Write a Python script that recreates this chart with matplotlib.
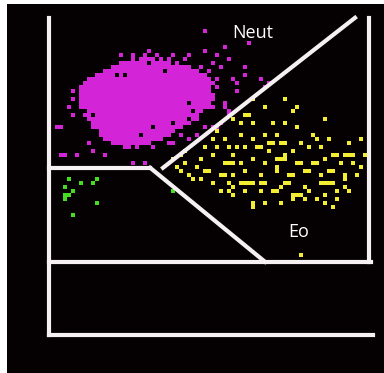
import numpy as np
import matplotlib
matplotlib.use("Agg")
import matplotlib.pyplot as plt

# channel units (one channel = one pixel cell of the scattergram)
# dense neutrophil core: row -> (first channel, last channel)
neut_core_rows = [69, 68, 67, 66, 65, 64, 63, 62, 61, 60, 59, 58, 57, 56, 55, 54, 53, 52, 51, 50, 49, 48, 47]
neut_core_x0 = [20, 17, 15, 13, 11, 10, 9, 8, 8, 7, 7, 8, 8, 9, 9, 10, 10, 11, 12, 12, 13, 15, 18]
neut_core_x1 = [30, 33, 36, 38, 39, 40, 41, 41, 41, 41, 41, 40, 40, 39, 38, 37, 36, 34, 33, 31, 29, 26, 23]
neut_holes = [(11, 55), (23, 50), (26, 52), (35, 58), (17, 65), (19, 65), (31, 53), (36, 56),
              (38, 52), (20, 69), (22, 69), (27, 69), (29, 69), (17, 68), (31, 68), (33, 68),
              (15, 67), (36, 67), (13, 66), (38, 66), (11, 65), (7, 60), (7, 59), (8, 62),
              (41, 61), (41, 62), (40, 57), (39, 56), (38, 55), (36, 53), (34, 52), (33, 51),
              (31, 50), (13, 49), (15, 48), (29, 49), (18, 47), (21, 47), (23, 47), (12, 51),
              (10, 53), (9, 56), (35, 54), (32, 51), (29, 66), (25, 68), (26, 48), (12, 50)]

neut_x = [39, 44, 39, 42, 45, 35, 31, 24, 21, 38, 41, 43, 40, 42, 42, 44, 38, 41, 45, 43,
          41, 37, 35, 31, 28, 26, 23, 21, 24, 14, 11, 10, 7, 4, 2, 6, 8, 10, 6, 46,
          47, 44, 50, 49, 47, 49, 54, 55, 53, 40, 44, 45, 36, 34, 39, 42, 37, 33, 30, 29,
          3, 3, 21, 24, 25, 27, 18, 34, 5, 6]
neut_y = [76, 72, 71, 70, 69, 70, 70, 70, 70, 67, 68, 67, 66, 64, 62, 58, 60, 57, 56, 53,
          52, 50, 49, 48, 49, 47, 48, 43, 43, 45, 46, 48, 45, 45, 52, 55, 62, 64, 59, 64,
          61, 57, 73, 67, 63, 65, 62, 63, 64, 57, 57, 55, 55, 53, 52, 52, 50, 50, 48, 51,
          45, 52, 43, 43, 71, 70, 70, 69, 57, 61]

eo_x = [59, 62, 54, 69, 51, 49, 51, 56, 59, 62, 46, 61,
        41, 44, 48, 51, 54, 58, 59, 63, 70, 75, 78,
        39, 42, 46, 49, 53, 55, 59, 61, 65, 68, 71, 74, 76, 79,
        34, 38, 41, 44, 48, 51, 54, 57, 59, 63, 66, 69, 73, 76, 78,
        35, 39, 43, 46, 49, 53, 57, 60, 64, 68, 71, 74, 77,
        38, 41, 45, 48, 51, 54, 58, 60, 64, 68, 71, 74,
        43, 46, 49, 53, 56, 61, 65, 69, 72, 75,
        46, 51, 54, 58, 61, 64, 69, 72, 80,
        51, 71, 80, 80, 63, 33, 31, 34, 42, 48, 57, 50,
        72, 75, 66, 67, 52, 45, 46, 60, 61, 49, 50, 56, 57, 62, 64, 65, 70, 57, 58, 44,
        40, 37, 36, 33, 32, 45, 47, 55, 56, 66, 67, 69, 70, 62, 63, 74, 67, 45, 59, 53]
eo_y = [59, 57, 57, 54, 59, 55, 53, 53, 53, 52, 54, 56,
        49, 49, 50, 49, 50, 48, 48, 48, 49, 48, 49,
        47, 47, 45, 47, 47, 46, 45, 46, 47, 47, 45, 45, 45, 45,
        43, 44, 45, 43, 43, 44, 43, 42, 44, 43, 43, 44, 43, 43, 42,
        40, 41, 40, 40, 41, 40, 41, 40, 41, 40, 41, 40, 40,
        39, 38, 38, 38, 38, 38, 37, 38, 37, 38, 38, 39,
        36, 37, 36, 36, 36, 35, 36, 35, 36, 36,
        35, 33, 33, 33, 34, 34, 33, 34, 35,
        32, 32, 27, 46, 20, 45, 44, 46, 51, 53, 50, 55,
        45, 45, 43, 43, 47, 43, 43, 40, 40, 38, 38, 36, 36, 43, 41, 41, 41, 44, 44, 40,
        41, 42, 39, 41, 42, 47, 47, 48, 48, 50, 49, 38, 38, 35, 35, 37, 34, 36, 38, 38]

lym_x = [5, 8, 11, 12, 4, 4, 4, 5, 6, 12, 6, 31]
lym_y = [39, 38, 38, 39, 37, 35, 34, 35, 36, 33, 30, 36]

# gate lines (channel units)
gate_lines = [
    ([0, 0], [0, 79.3]),
    ([80, 80], [18.3, 79.3]),
    ([0, 80.5], [18.3, 18.3]),
    ([0, 81], [0, 0]),
    ([0, 25.3], [41.8, 41.8]),
    ([25.3, 54], [41.8, 18.3]),
    ([28.5, 76.5], [41.8, 79.3]),
]
labels = [("Neut", 51, 75.5), ("Eo", 62.3, 25.8)]

core = [(c, r) for r, a, b in zip(neut_core_rows, neut_core_x0, neut_core_x1)
        for c in range(a, b + 1) if (c, r) not in neut_holes]
core_x = [p[0] for p in core]
core_y = [p[1] for p in core]

fig = plt.figure(figsize=(3.84, 3.73), dpi=100, facecolor="white")
ax = fig.add_axes([7 / 384, 0, 1 - 7 / 384, 1 - 4 / 373])
ax.set_facecolor("#050002")
ax.set_xlim(-10.5, 83.75)
ax.set_ylim(-9.5, 82.75)
ax.set_xticks([])
ax.set_yticks([])
for sp in ax.spines.values():
    sp.set_visible(False)

msize = 9.5
ax.scatter(core_x, core_y, s=msize, marker="s", color="#d424d8", linewidths=0)
ax.scatter(neut_x, neut_y, s=msize, marker="s", color="#d424d8", linewidths=0)
ax.scatter(eo_x, eo_y, s=msize, marker="s", color="#f3ee32", linewidths=0)
ax.scatter(lym_x, lym_y, s=msize, marker="s", color="#44dd22", linewidths=0)

for xs, ys in gate_lines:
    ax.plot(xs, ys, color="#f7f0f3", lw=3.0, solid_capstyle="projecting")

for txt, x, y in labels:
    ax.text(x, y, txt, color="white", fontsize=13, family="Open Sans",
            ha="center", va="center")

fig.savefig("out.png", dpi=100, facecolor="white")
